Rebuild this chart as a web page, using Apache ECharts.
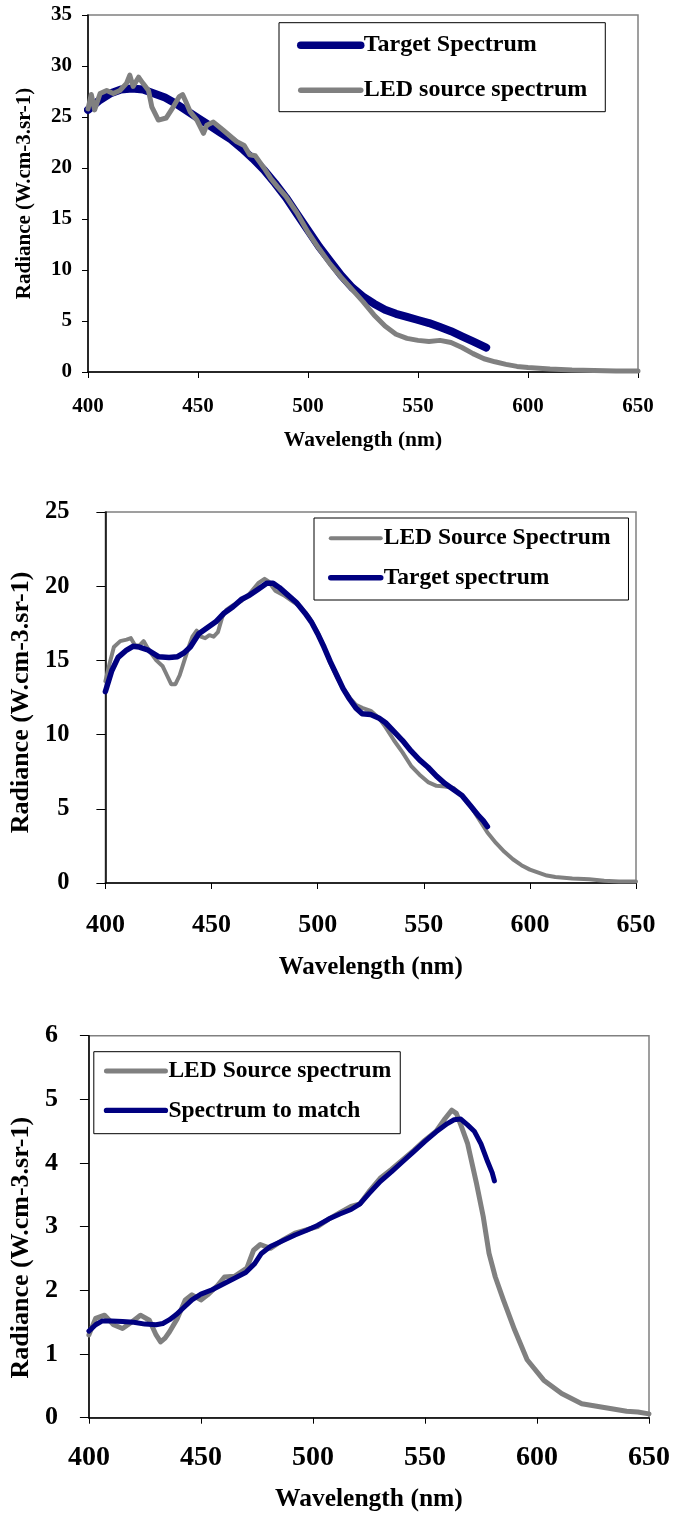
<!DOCTYPE html>
<html><head><meta charset="utf-8">
<script src="https://cdn.jsdelivr.net/npm/echarts@6/dist/echarts.min.js"></script>
<style>html,body{margin:0;padding:0;background:#fff}#c{width:673px;height:1515px}</style>
</head><body><div id="c"></div><script>
// ---------- Data: chart 1 ----------
const c1TargetX = [400,405,410,415,420,425,430,435,440,445,450,455,460,465,470,475,480,485,490,495,500,505,510,515,520,525,530,535,540,545,550,555,560,565,570,575,581];
const c1TargetY = [25.7,26.6,27.3,27.7,27.8,27.7,27.3,26.9,26.3,25.6,24.9,24.2,23.5,22.8,21.9,20.9,19.8,18.5,17.1,15.5,13.9,12.3,10.9,9.5,8.3,7.4,6.7,6.1,5.7,5.4,5.1,4.8,4.4,4.0,3.5,3.0,2.4];
const c1LedX = [400,401.5,403,405.5,408.5,411.5,414.5,417.5,419,420.5,423,425,427.5,429,432,435.5,438.5,441.5,443,444.5,446.5,449.5,452.5,454,457,461.5,467.5,471,473.5,476,478,480,483,486,490,495,500,505,510,515,520,525,530,535,540,545,550,555,560,565,570,575,580,585,590,595,600,610,620,630,640,650];
const c1LedY = [25.8,27.2,25.7,27.3,27.6,27.3,27.6,28.3,29.1,28.0,28.9,28.3,27.6,26.0,24.7,24.9,25.9,27.0,27.2,26.5,25.5,24.7,23.4,24.2,24.5,23.7,22.6,22.2,21.3,21.2,20.6,20.0,19.0,18.2,17.2,15.6,13.7,12.1,10.6,9.3,8.1,6.9,5.6,4.5,3.7,3.3,3.1,3.0,3.1,2.9,2.4,1.8,1.3,1.0,0.75,0.55,0.45,0.3,0.2,0.15,0.1,0.1];
// ---------- Data: chart 2 ----------
const c2TargetX = [400,403,406,410,413,416,420,425,430,434,437,440,444,448,452,456,460,464,468,472,476,479,482,486,490,494,497,500,503,506,509,512,515,518,521,525,529,532,536,540,544,548,552,556,560,564,568,572,576,578,580];
const c2TargetY = [12.9,14.3,15.2,15.7,15.95,15.9,15.7,15.25,15.2,15.25,15.5,15.9,16.8,17.2,17.6,18.2,18.6,19.1,19.4,19.8,20.2,20.2,19.9,19.4,18.9,18.2,17.6,16.8,15.9,14.9,14.0,13.1,12.4,11.8,11.4,11.35,11.1,10.8,10.2,9.6,8.9,8.3,7.8,7.2,6.7,6.3,5.9,5.2,4.5,4.2,3.8];
const c2LedX = [400,402,404,407,410,412,414,416,418,420,422,424,427,429,431,433,435,437,439,441,443,445,447,449,451,453,455,457,460,464,468,472,475,477,480,484,488,492,496,500,503,506,509,512,515,518,521,525,529,532,536,540,544,548,552,556,560,564,568,572,576,580,584,588,592,596,600,604,608,612,620,628,635,642,650];
const c2LedY = [13.6,14.8,15.9,16.3,16.4,16.5,16.0,16.0,16.3,15.8,15.4,15.0,14.6,14.0,13.4,13.4,14.0,14.9,15.8,16.6,17.0,16.6,16.5,16.7,16.6,16.9,17.9,18.4,18.7,19.0,19.5,20.2,20.5,20.3,19.7,19.4,19.0,18.6,17.9,16.9,15.9,14.8,13.9,13.1,12.5,12.0,11.8,11.6,11.1,10.5,9.6,8.8,7.9,7.3,6.8,6.55,6.5,6.4,5.9,5.2,4.3,3.4,2.7,2.1,1.6,1.2,0.9,0.7,0.5,0.4,0.3,0.25,0.15,0.1,0.1];
// ---------- Data: chart 3 ----------
const c3MatchX = [400,403,406,410,415,420,425,430,433,436,439,442,446,450,455,460,465,470,474,477,481,486,492,497,502,507,512,517,521,525,530,535,540,545,550,555,560,563,566,569,572,575,578,580,581];
const c3MatchY = [1.36,1.46,1.52,1.52,1.51,1.5,1.47,1.46,1.48,1.54,1.62,1.72,1.85,1.94,2.01,2.1,2.19,2.28,2.42,2.58,2.69,2.77,2.87,2.94,3.02,3.12,3.2,3.27,3.36,3.52,3.71,3.86,4.02,4.18,4.34,4.49,4.62,4.68,4.69,4.6,4.5,4.3,4.02,3.85,3.72];
const c3LedX = [400,403,407,411,415,419,423,427,430,432,434,436,439.5,443,446,450,453,457.5,460.5,465,470.5,473.5,476.5,481,487,492,497,502,507,512,517,521,525,530,535,540,545,550,555,559,562,564,566,569,573,576,578.6,581.4,585,590,595.6,603,611,620,630,640,645,650];
const c3LedY = [1.3,1.56,1.61,1.46,1.4,1.5,1.61,1.53,1.3,1.19,1.25,1.35,1.56,1.85,1.93,1.85,1.93,2.08,2.21,2.22,2.35,2.63,2.72,2.66,2.8,2.9,2.95,3.0,3.12,3.22,3.32,3.36,3.55,3.76,3.9,4.05,4.2,4.36,4.5,4.7,4.83,4.78,4.6,4.31,3.68,3.16,2.58,2.21,1.85,1.38,0.91,0.59,0.38,0.22,0.16,0.1,0.09,0.06];
// ---------- Axis ticks ----------
const xTicks = {min: 400, max: 650, interval: 50};
const y1Ticks = {min: 0, max: 35, interval: 5};
const y2Ticks = {min: 0, max: 25, interval: 5};
const y3Ticks = {min: 0, max: 6, interval: 1};
const xName = 'Wavelength (nm)';
const yName = 'Radiance (W.cm-3.sr-1)';

const FONT = '"Liberation Serif","Times New Roman",Times,serif';
const NAVY = '#000080', GRAY = '#808080';
function pairs(xs, ys) { return xs.map((x, i) => [x, ys[i]]); }
function txt(size) { return {fontFamily: FONT, fontWeight: 'bold', fontSize: size, color: '#000'}; }

function xAx(g, labelSize, margin, nameSize, nameGap) {
  return {
    gridIndex: g, type: 'value', min: xTicks.min, max: xTicks.max, interval: xTicks.interval,
    axisLine: {show: true, lineStyle: {color: '#000', width: 1.5}},
    axisTick: {show: true, inside: false, length: 6, lineStyle: {color: '#000', width: 1}},
    axisLabel: Object.assign({margin: margin}, txt(labelSize)),
    splitLine: {show: false},
    name: xName, nameLocation: 'middle', nameGap: nameGap, nameTextStyle: txt(nameSize)
  };
}
function yAx(g, t, labelSize, margin, nameSize, nameGap, tickLen, shift) {
  const ns = txt(nameSize);
  if (shift) ns.padding = shift > 0 ? [0, shift * 2, 0, 0] : [0, 0, 0, -shift * 2];
  return {
    gridIndex: g, type: 'value', min: t.min, max: t.max, interval: t.interval,
    axisLine: {show: true, lineStyle: {color: '#000', width: 1.5}},
    axisTick: {show: true, inside: false, length: tickLen, lineStyle: {color: '#000', width: 1}},
    axisLabel: Object.assign({margin: margin}, txt(labelSize)),
    splitLine: {show: false},
    name: yName, nameLocation: 'middle', nameGap: nameGap, nameTextStyle: ns
  };
}
function line(name, g, xs, ys, color, width, z) {
  return {
    name: name, type: 'line', xAxisIndex: g, yAxisIndex: g, data: pairs(xs, ys),
    symbol: 'none', showSymbol: false, color: color, z: z,
    lineStyle: {color: color, width: width, join: 'round', cap: 'round'},
    emphasis: {disabled: true}, animation: false
  };
}
function legend(left, top, padding, itemWidth, itemGap, fontSize, items) {
  return {
    left: left, top: top, orient: 'vertical', padding: padding, itemWidth: itemWidth, itemHeight: 14,
    itemGap: itemGap, backgroundColor: '#fff', borderColor: '#000', borderWidth: 1, borderRadius: 0,
    selectedMode: false,
    textStyle: Object.assign({lineHeight: fontSize + 1, padding: [0, 0, 0, -2]}, txt(fontSize)),
    data: items.map(it => ({name: it[0], lineStyle: {width: it[1]}, itemStyle: {opacity: 0}}))
  };
}

const option = {
  backgroundColor: '#fff',
  animation: false,
  grid: [
    {left: 88, top: 15, width: 550, height: 357, show: true, borderColor: GRAY, borderWidth: 1.5, backgroundColor: 'transparent'},
    {left: 91.6, top: 512, width: 544.4, height: 371, show: true, borderColor: GRAY, borderWidth: 1.5, backgroundColor: 'transparent'},
    {left: 81.2, top: 1035.7, width: 573.2, height: 382, show: true, borderColor: GRAY, borderWidth: 1.5, backgroundColor: 'transparent'}
  ],
  xAxis: [
    xAx(0, 21, 24, 21.5, 57),
    xAx(1, 26, 29, 25, 72),
    xAx(2, 28, 26, 25.5, 69)
  ],
  yAxis: [
    yAx(0, y1Ticks, 21, 16, 21, 53, 6, 0),
    yAx(1, y2Ticks, 24.5, 36, 26, 55, 9, 5),
    yAx(2, y3Ticks, 26, 31, 26, 48, 9, 21)
  ],
  legend: [
    legend(279, 22.7, [10, 18, 9, 18], 60, 20, 24, [['Target Spectrum', 7.5], ['LED source spectrum', 5.5]]),
    legend(314, 518, [8, 18, 10, 14], 50, 15, 23.5, [['LED Source Spectrum', 4], ['Target spectrum', 5.5]]),
    legend(93.8, 1051.7, [7, 9, 11, 10], 59, 15, 23.5, [['LED Source spectrum', 5], ['Spectrum to match', 5.3]])
  ],
  series: [
    line('Target Spectrum', 0, c1TargetX, c1TargetY, NAVY, 8, 2),
    line('LED source spectrum', 0, c1LedX, c1LedY, GRAY, 5, 3),
    line('LED Source Spectrum', 1, c2LedX, c2LedY, GRAY, 4, 2),
    line('Target spectrum', 1, c2TargetX, c2TargetY, NAVY, 5.5, 3),
    line('LED Source spectrum', 2, c3LedX, c3LedY, GRAY, 5, 2),
    line('Spectrum to match', 2, c3MatchX, c3MatchY, NAVY, 5, 3)
  ]
};
const chart = echarts.init(document.getElementById('c'), null, {renderer: 'canvas', width: 673, height: 1515});
chart.setOption(option);
</script></body></html>
